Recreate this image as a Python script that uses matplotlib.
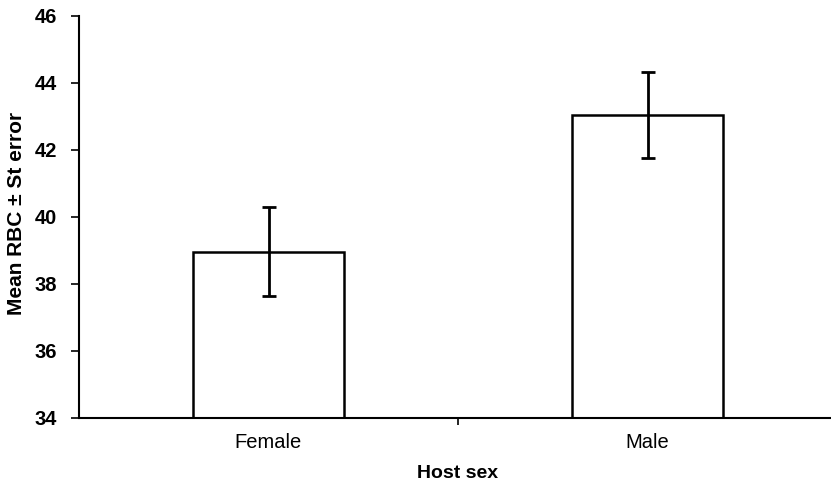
import matplotlib
matplotlib.use("Agg")
import matplotlib.pyplot as plt

plt.rcParams['font.family'] = ['Liberation Sans', 'DejaVu Sans']

# data
groups = ['Female', 'Male']
means = [38.97, 43.05]
st_err = [1.34, 1.29]
y_ticks = [34, 36, 38, 40, 42, 44, 46]

fig = plt.figure(figsize=(8.31, 4.90), dpi=100)
ax = fig.add_axes([79 / 831, (490 - 418) / 490, (837 - 79) / 831, (418 - 16) / 490])

x = range(len(groups))
ax.bar(x, [m - 34 for m in means], bottom=34, width=0.4,
       color='white', edgecolor='black', linewidth=1.8, zorder=2)
ax.errorbar(x, means, yerr=st_err, fmt='none', ecolor='black',
            elinewidth=2, capsize=5, capthick=2, zorder=3)

ax.set_xlim(-0.5, 1.5)
ax.set_ylim(34, 46)
ax.set_yticks(y_ticks)
ax.set_xticks(list(x))
ax.set_xticklabels(groups, fontsize=14.5)
ax.set_xticks([0.5], minor=True)
ax.tick_params(axis='x', which='major', length=0, pad=11)
ax.tick_params(axis='x', which='minor', length=5, width=1.2, direction='out')
ax.tick_params(axis='y', length=6, width=1.2, pad=10, labelsize=14.5)
for lbl in ax.get_yticklabels():
    lbl.set_fontweight('bold')

for s in ['top', 'right']:
    ax.spines[s].set_visible(False)
ax.spines['left'].set_linewidth(1.5)
ax.spines['bottom'].set_linewidth(1.5)

ax.set_xlabel('Host sex', fontsize=14, fontweight='bold')
ax.set_ylabel('Mean RBC \u00b1 St error', fontsize=15, fontweight='bold')
ax.xaxis.set_label_coords((458 - 79) / (837 - 79), -(465 - 418) / (418 - 16))
ax.yaxis.set_label_coords((26 - 79) / (837 - 79), (418 - 213) / (418 - 16))

fig.savefig('out.png', dpi=100)
